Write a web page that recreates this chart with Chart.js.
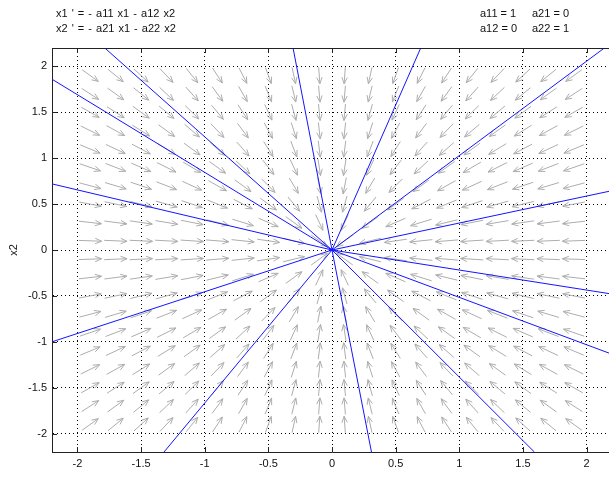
<!DOCTYPE html>
<html>
<head>
<meta charset="utf-8">
<script src="https://cdn.jsdelivr.net/npm/chart.js@4.4.0/dist/chart.umd.min.js"></script>
<style>
  html, body { margin: 0; padding: 0; background: #fff; overflow: hidden; }
  #wrap { position: relative; width: 609px; height: 477px; overflow: hidden; }
  #phase { position: absolute; left: 0; top: 0; }
  .eq { position: absolute; font: 11px "Liberation Sans", Arial, sans-serif; line-height: 15px; color: #111; white-space: pre; }
</style>
</head>
<body>
<div id="wrap">
  <canvas id="phase" width="620" height="477"></canvas>
  <div class="eq" id="eq_left" style="left:56px; top:6px; word-spacing:1px"></div>
  <div class="eq" id="eq_mid" style="left:480px; top:6px"></div>
  <div class="eq" id="eq_right" style="left:532px; top:6px"></div>
</div>
<script>
// system parameters
let a11 = 1;
let a12 = 0;
let a21 = 0;
let a22 = 1;

// axes
let x_ticks = [-2, -1.5, -1, -0.5, 0, 0.5, 1, 1.5, 2];
let x_tick_labels = ['-2', '-1.5', '-1', '-0.5', '0', '0.5', '1', '1.5', '2'];
let y_ticks = [-2, -1.5, -1, -0.5, 0, 0.5, 1, 1.5, 2];
let y_tick_labels = ['-2', '-1.5', '-1', '-0.5', '0', '0.5', '1', '1.5', '2'];

// direction field sample points
let field_x = [-1.9, -1.7, -1.5, -1.3, -1.1, -0.9, -0.7, -0.5, -0.3, -0.1, 0.1, 0.3, 0.5, 0.7, 0.9, 1.1, 1.3, 1.5, 1.7, 1.9];
let field_y = [-1.9, -1.7, -1.5, -1.3, -1.1, -0.9, -0.7, -0.5, -0.3, -0.1, 0.1, 0.3, 0.5, 0.7, 0.9, 1.1, 1.3, 1.5, 1.7, 1.9];

// trajectories: straight lines from the origin to where they leave the box
let traj_end_x = [-1.785, -2.2, -2.2, -2.2, -1.32, 0.31, 1.59, 2.2, 2.2, 2.2, 2.14, 0.697, -0.306];
let traj_end_y = [2.2, 1.86, 0.72, -1.0, -2.2, -2.2, -2.2, -1.135, -0.48, 0.646, 2.2, 2.2, 2.2];

document.getElementById('eq_left').textContent = "x1 ' = - a11 x1 - a12 x2\nx2 ' = - a21 x1 - a22 x2";
document.getElementById('eq_mid').textContent = `a11 = ${a11}\na12 = ${a12}`;
document.getElementById('eq_right').textContent = `a21 = ${a21}\na22 = ${a22}`;

const arrow_len = 0.18;

// gray direction arrows
const field_arrows = {
  id: 'field_arrows',
  beforeDatasetsDraw(chart) {
    const {ctx, chartArea, scales} = chart;
    ctx.save();
    ctx.beginPath();
    ctx.rect(chartArea.left, chartArea.top, chartArea.width, chartArea.height);
    ctx.clip();
    ctx.strokeStyle = '#adadad';
    ctx.lineWidth = 1;
    field_y.forEach(py => {
      field_x.forEach(px => {
        let u = -(a11 * px + a12 * py);
        let v = -(a21 * px + a22 * py);
        let n = Math.sqrt(u * u + v * v);
        if (n === 0) return;
        u = u / n * arrow_len;
        v = v / n * arrow_len;
        const x1 = scales.x.getPixelForValue(px - u / 2);
        const y1 = scales.y.getPixelForValue(py - v / 2);
        const x2 = scales.x.getPixelForValue(px + u / 2);
        const y2 = scales.y.getPixelForValue(py + v / 2);
        const ang = Math.atan2(y2 - y1, x2 - x1);
        ctx.beginPath();
        ctx.moveTo(x1, y1);
        ctx.lineTo(x2, y2);
        ctx.moveTo(x2 - 7 * Math.cos(ang - 0.4), y2 - 7 * Math.sin(ang - 0.4));
        ctx.lineTo(x2, y2);
        ctx.lineTo(x2 - 7 * Math.cos(ang + 0.4), y2 - 7 * Math.sin(ang + 0.4));
        ctx.stroke();
      });
    });
    ctx.restore();
  }
};

// top border and inner tick marks like the matlab box
const axes_box = {
  id: 'axes_box',
  afterDraw(chart) {
    const {ctx, chartArea, scales} = chart;
    ctx.save();
    ctx.strokeStyle = '#222';
    ctx.lineWidth = 1;
    ctx.beginPath();
    ctx.moveTo(chartArea.left, chartArea.top + 0.5);
    ctx.lineTo(chartArea.right, chartArea.top + 0.5);
    x_ticks.forEach(v => {
      const px = Math.round(scales.x.getPixelForValue(v)) + 0.5;
      ctx.moveTo(px, chartArea.bottom);
      ctx.lineTo(px, chartArea.bottom - 5);
      ctx.moveTo(px, chartArea.top);
      ctx.lineTo(px, chartArea.top + 5);
    });
    y_ticks.forEach(v => {
      const py = Math.round(scales.y.getPixelForValue(v)) + 0.5;
      ctx.moveTo(chartArea.left, py);
      ctx.lineTo(chartArea.left + 5, py);
    });
    ctx.stroke();
    ctx.restore();
  }
};

const traj_datasets = traj_end_x.map((ex, i) => ({
  data: [{x: 0, y: 0}, {x: ex, y: traj_end_y[i]}],
  showLine: true,
  borderColor: 'rgb(20,20,255)',
  borderWidth: 1,
  pointRadius: 0,
  fill: false
}));

const grid_opts = {
  color: '#000',
  lineWidth: 1,
  drawTicks: false
};

const ctx = document.getElementById('phase').getContext('2d');
const phase_chart = new Chart(ctx, {
  type: 'scatter',
  data: { datasets: traj_datasets },
  options: {
    responsive: false,
    animation: false,
    devicePixelRatio: 1,
    layout: { padding: { top: 48, right: 8, left: 0, bottom: 0 } },
    plugins: { legend: { display: false }, tooltip: { enabled: false } },
    scales: {
      x: {
        type: 'linear',
        min: -2.2,
        max: 2.2,
        afterBuildTicks: s => { s.ticks = x_ticks.map(v => ({value: v})); },
        afterFit: s => { s.height = 25; },
        grid: grid_opts,
        border: { color: '#222', dash: [1, 3] },
        ticks: {
          padding: 5,
          color: '#111',
          font: { family: '"Liberation Sans", Arial, sans-serif', size: 11 },
          maxRotation: 0,
          callback: (val, idx) => x_tick_labels[idx]
        }
      },
      y: {
        type: 'linear',
        min: -2.2,
        max: 2.2,
        afterBuildTicks: s => { s.ticks = y_ticks.map(v => ({value: v})); },
        afterFit: s => { s.width = 52; },
        grid: grid_opts,
        border: { color: '#222', dash: [1, 3] },
        title: {
          display: true,
          text: 'x2',
          color: '#111',
          padding: { top: 7, bottom: 0 },
          font: { family: '"Liberation Sans", Arial, sans-serif', size: 11 }
        },
        ticks: {
          padding: 5,
          color: '#111',
          font: { family: '"Liberation Sans", Arial, sans-serif', size: 11 },
          callback: (val, idx) => y_tick_labels[idx]
        }
      }
    }
  },
  plugins: [field_arrows, axes_box]
});
</script>
</body>
</html>
